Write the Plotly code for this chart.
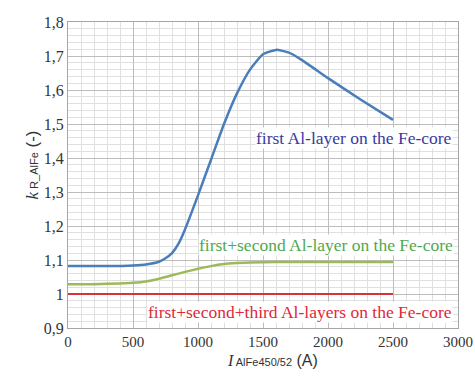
import plotly.graph_objects as go

# Data
blue_x = [0, 300, 500, 600, 700, 750, 800, 850, 900, 1000, 1100, 1200, 1300, 1400,
          1500, 1600, 1700, 1800, 2000, 2250, 2500]
blue_y = [1.082, 1.082, 1.084, 1.087, 1.095, 1.105, 1.12, 1.148, 1.19, 1.29, 1.395,
          1.50, 1.59, 1.66, 1.705, 1.718, 1.71, 1.688, 1.635, 1.572, 1.512]
green_x = [0, 200, 400, 500, 600, 700, 800, 900, 1000, 1100, 1200, 1300, 1400, 1600, 2000, 2500]
green_y = [1.029, 1.029, 1.031, 1.033, 1.037, 1.045, 1.055, 1.065, 1.074, 1.082, 1.088,
           1.091, 1.093, 1.094, 1.094, 1.094]
red_x = [0, 2500]
red_y = [1.0, 1.0]

labels = ["first Al-layer on the Fe-core",
          "first+second Al-layer on the Fe-core",
          "first+second+third Al-layers on the Fe-core"]
x_ticks = [0, 500, 1000, 1500, 2000, 2500, 3000]
y_ticks = [0.9, 1.0, 1.1, 1.2, 1.3, 1.4, 1.5, 1.6, 1.7, 1.8]
y_ticktext = ["0,9", "1", "1,1", "1,2", "1,3", "1,4", "1,5", "1,6", "1,7", "1,8"]

fig = go.Figure()
fig.add_trace(go.Scatter(x=blue_x, y=blue_y, mode="lines", line=dict(color="#4a7ebb", width=2.5, shape="spline", smoothing=0.5)))
fig.add_trace(go.Scatter(x=green_x, y=green_y, mode="lines", line=dict(color="#9bbb59", width=2.5, shape="spline", smoothing=0.5)))
fig.add_trace(go.Scatter(x=red_x, y=red_y, mode="lines", line=dict(color="#d5343c", width=2)))

serif = "Liberation Serif, Times New Roman, serif"

fig.add_annotation(x=2200, y=1.459, text=labels[0], showarrow=False, xref="x", yref="y",
                   font=dict(family=serif, size=17.5, color="#3a3aa0"), bgcolor="white", borderpad=0)
fig.add_annotation(x=1988, y=1.144, text=labels[1], showarrow=False, xref="x", yref="y",
                   font=dict(family=serif, size=17.5, color="#4fa84f"), bgcolor="white", borderpad=0)
fig.add_annotation(x=1781, y=0.947, text=labels[2], showarrow=False, xref="x", yref="y",
                   font=dict(family=serif, size=17.5, color="#e0283a"), bgcolor="white", borderpad=0)

W, H = 475, 381
L, T = 68, 22
R = W - 458
B = H - 328
pw, ph = W - L - R, H - T - B

def px_to_paper(x, y):
    return (x - L) / pw, 1 - (y - T) / ph

ax, ay = px_to_paper(20, 165)
fig.add_annotation(x=ax, y=ay, xref="paper", yref="paper", showarrow=False, textangle=-90,
                   text="<i>k</i><span style='font-family:Liberation Sans;font-size:11px'> R_AlFe</span><span style='font-family:Liberation Sans'> (-)</span>",
                   font=dict(family=serif, size=17, color="#333"))
bx, by = px_to_paper(272, 371)
fig.add_annotation(x=bx, y=by, xref="paper", yref="paper", showarrow=False,
                   text="<i>I</i><span style='font-family:Liberation Sans;font-size:11px'> AlFe450/52</span><span style='font-family:Liberation Sans'> (A)</span>",
                   font=dict(family=serif, size=16, color="#333"))

fig.update_layout(
    width=W, height=H,
    margin=dict(l=L, r=R, t=T, b=B),
    paper_bgcolor="white", plot_bgcolor="white",
    showlegend=False,
    xaxis=dict(
        range=[0, 3000], tickvals=x_ticks, ticks="", showgrid=True, automargin=False,
        gridcolor="#bdbdbd", gridwidth=1,
        minor=dict(dtick=100, showgrid=True, gridcolor="#e0e0e0", gridwidth=1),
        showline=True, linecolor="#a6a6a6", mirror=True, zeroline=False,
        tickfont=dict(family=serif, size=15, color="#333"),
    ),
    yaxis=dict(
        range=[0.9, 1.8], tickvals=y_ticks, ticktext=y_ticktext, ticks="", showgrid=True, automargin=False,
        gridcolor="#bdbdbd", gridwidth=1,
        minor=dict(dtick=0.02, showgrid=True, gridcolor="#e0e0e0", gridwidth=1),
        showline=True, linecolor="#a6a6a6", mirror=True, zeroline=False,
        tickfont=dict(family=serif, size=16, color="#333"),
    ),
)

fig.write_html("out.html", config={"displayModeBar": False},
               post_script="document.body.style.margin='0';document.body.style.overflow='hidden';")
